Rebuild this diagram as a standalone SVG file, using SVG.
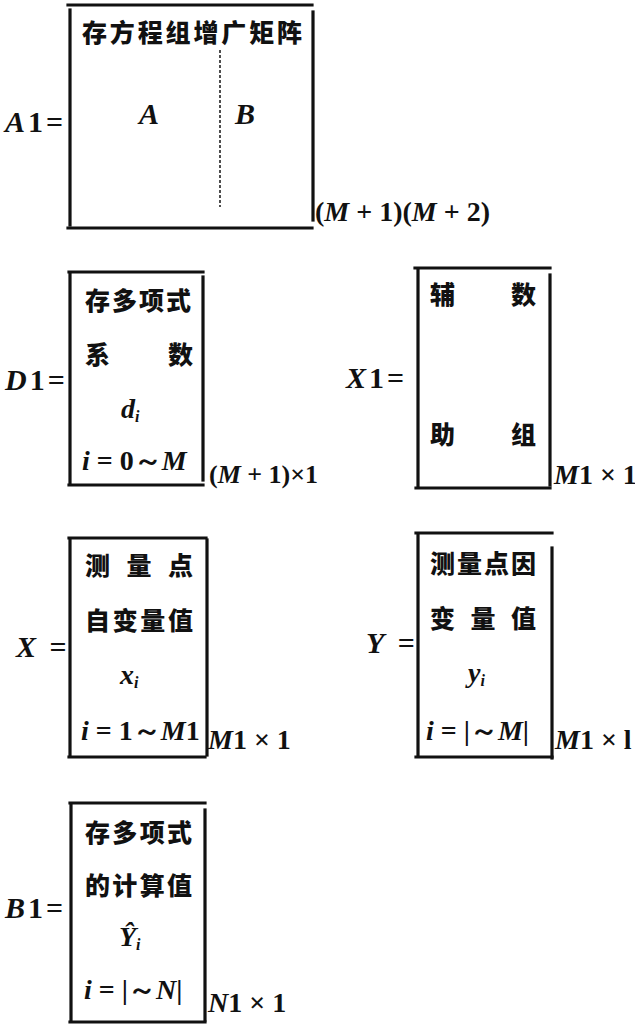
<svg xmlns="http://www.w3.org/2000/svg" width="635" height="1024" viewBox="0 0 635 1024">
<style>
.bg{fill:#fff}
.br{stroke:#111;stroke-width:3.2;fill:none;stroke-linecap:square}
.dash{stroke:#222;stroke-width:1.6;stroke-dasharray:3 2;fill:none}
.cn{font-family:"Noto Sans CJK SC","Noto Sans CJK JP",sans-serif;font-weight:900;font-size:25px;fill:#111}
.m{font-family:"Liberation Serif","DejaVu Serif",serif;font-weight:bold;font-style:italic;font-size:28px;fill:#111}
.r{font-family:"Liberation Serif","DejaVu Serif",serif;font-weight:bold;font-style:normal;font-size:28px;fill:#111}
.lab{font-size:30px;letter-spacing:3px}
.sub{font-size:16px}
</style>
<rect class="bg" width="635" height="1024"/>

<g id="A1">
  <text class="m lab" x="5" y="132">A<tspan class="r lab">1=</tspan></text>
  <line class="br" x1="68" y1="5" x2="312" y2="5"/>
  <line class="br" x1="70" y1="10" x2="70" y2="225"/>
  <line class="br" x1="313" y1="12" x2="313" y2="220"/>
  <line class="br" x1="68" y1="228" x2="312" y2="228"/>
  <text class="cn" x="82" y="42" textLength="220" lengthAdjust="spacing">存方程组增广矩阵</text>
  <line class="dash" x1="220" y1="50" x2="220" y2="207"/>
  <text class="m" x="139" y="124" style="font-size:30px">A</text>
  <text class="m" x="235" y="124" style="font-size:30px">B</text>
  <text class="r" x="315" y="221">(<tspan class="m">M</tspan> + 1)(<tspan class="m">M</tspan> + 2)</text>
</g>

<g id="D1">
  <text class="m lab" x="5" y="390">D<tspan class="r lab">1=</tspan></text>
  <line class="br" x1="69" y1="272" x2="203" y2="272"/>
  <line class="br" x1="70" y1="274" x2="70" y2="483"/>
  <line class="br" x1="203" y1="277" x2="203" y2="480"/>
  <line class="br" x1="69" y1="485" x2="203" y2="485"/>
  <text class="cn" x="85" y="310" textLength="106" lengthAdjust="spacing">存多项式</text>
  <text class="cn" x="85" y="364">系</text>
  <text class="cn" x="168" y="364">数</text>
  <text class="m" x="121" y="418">d<tspan class="sub" dy="4">i</tspan></text>
  <text class="m" x="82" y="470">i<tspan class="r"> = 0～</tspan>M</text>
  <text class="r" x="209" y="483" style="font-size:26px">(<tspan class="m" style="font-size:26px">M</tspan> + 1)×1</text>
</g>

<g id="X1">
  <text class="m lab" x="346" y="388">X<tspan class="r lab">1=</tspan></text>
  <line class="br" x1="415" y1="268" x2="550" y2="268"/>
  <line class="br" x1="418" y1="270" x2="418" y2="486"/>
  <line class="br" x1="550" y1="275" x2="550" y2="485"/>
  <line class="br" x1="416" y1="488" x2="550" y2="488"/>
  <text class="cn" x="430" y="304">辅</text>
  <text class="cn" x="511" y="304">数</text>
  <text class="cn" x="430" y="444">助</text>
  <text class="cn" x="511" y="444">组</text>
  <text class="m" x="554" y="484">M<tspan class="r">1 × 1</tspan></text>
</g>

<g id="X">
  <text class="m lab" x="16" y="657">X<tspan class="r lab"> =</tspan></text>
  <line class="br" x1="69" y1="538" x2="206" y2="538"/>
  <line class="br" x1="70" y1="540" x2="70" y2="756"/>
  <line class="br" x1="207" y1="540" x2="207" y2="755"/>
  <line class="br" x1="69" y1="757" x2="205" y2="757"/>
  <text class="cn" x="85" y="575" textLength="108" lengthAdjust="spacing">测 量 点</text>
  <text class="cn" x="85" y="630" textLength="108" lengthAdjust="spacing">自变量值</text>
  <text class="m" x="120" y="684">x<tspan class="sub" dy="4">i</tspan></text>
  <text class="m" x="81" y="740">i<tspan class="r"> = 1～</tspan>M<tspan class="r">1</tspan></text>
  <text class="m" x="208" y="749">M<tspan class="r">1 × 1</tspan></text>
</g>

<g id="Y">
  <text class="m lab" x="366" y="653">Y<tspan class="r lab"> =</tspan></text>
  <line class="br" x1="416" y1="533" x2="552" y2="533"/>
  <line class="br" x1="418" y1="535" x2="418" y2="755"/>
  <line class="br" x1="552" y1="548" x2="552" y2="758"/>
  <line class="br" x1="416" y1="757" x2="552" y2="757"/>
  <text class="cn" x="430" y="573" textLength="106" lengthAdjust="spacing">测量点因</text>
  <text class="cn" x="430" y="628" textLength="106" lengthAdjust="spacing">变 量 值</text>
  <text class="m" x="468" y="682">y<tspan class="sub" dy="4">i</tspan></text>
  <text class="m" x="426" y="740">i<tspan class="r"> = |～</tspan>M<tspan class="r">|</tspan></text>
  <text class="m" x="555" y="749">M<tspan class="r">1 × l</tspan></text>
</g>

<g id="B1">
  <text class="m lab" x="5" y="918">B<tspan class="r lab">1=</tspan></text>
  <line class="br" x1="70" y1="803" x2="205" y2="803"/>
  <line class="br" x1="71" y1="805" x2="71" y2="1020"/>
  <line class="br" x1="205" y1="810" x2="205" y2="1020"/>
  <line class="br" x1="70" y1="1022" x2="205" y2="1022"/>
  <text class="cn" x="85" y="842" textLength="107" lengthAdjust="spacing">存多项式</text>
  <text class="cn" x="85" y="895" textLength="107" lengthAdjust="spacing">的计算值</text>
  <text class="m" x="119" y="946">Ŷ<tspan class="sub" dy="4">i</tspan></text>
  <text class="m" x="84" y="999">i<tspan class="r"> = |～</tspan>N<tspan class="r">|</tspan></text>
  <text class="m" x="208" y="1012">N<tspan class="r">1 × 1</tspan></text>
</g>
</svg>
